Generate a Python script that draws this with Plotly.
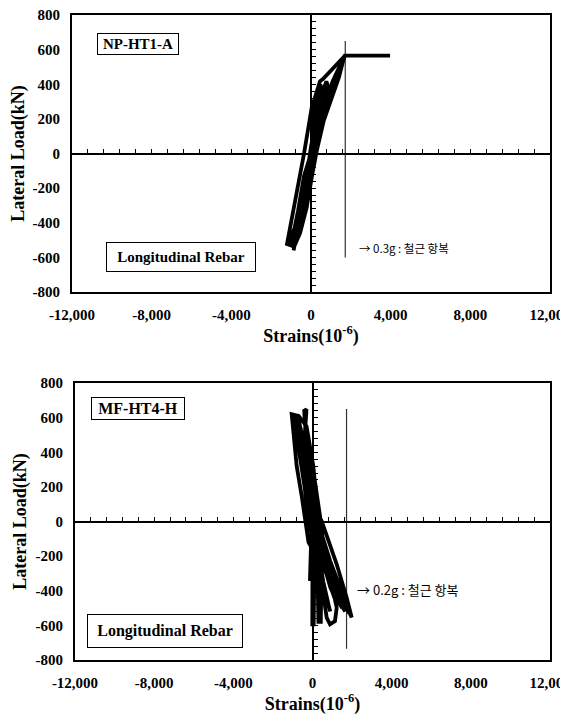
import plotly.graph_objects as go

# ---------------- data ----------------
x_tick_vals = [-12000, -8000, -4000, 0, 4000, 8000, 12000]
x_tick_text = ["-12,000", "-8,000", "-4,000", "0", "4,000", "8,000", "12,000"]
y_tick_vals = [-800, -600, -400, -200, 0, 200, 400, 600, 800]
y_tick_text = ["-800", "-600", "-400", "-200", "0", "200", "400", "600", "800"]

yield_strain = 1720

# NP-HT1-A (top) hysteresis: strain (1e-6), load (kN)
np_strain = [0, 100, 218, 250, 150, 0, -200, -380, -330, -150, 0,
             150, 300, 470, 520, 400, 200, 0, -250, -500, -620, -560, -350, -150, 0,
             250, 500, 700, 773, 820, 650, 400, 150, -150, -450, -700, -874, -800, -550, -250, -50, 100,
             300, 700, 1100, 1707, 1200, 788, 286, 50, -215, -550, -888, -780, -500, -300, -100, 100,
             400, 900, 1400, 1650, 1400, 900, 400, 0, -400, -800, -1050, -950, -650, -350, 0,
             200, 600, 1100, 1550, 1300, 800, 300, -100, -450, -750, -950, -850, -550, -250, 100,
             500, 1000, 1707, 1300, 700, 200, -250, -700, -1220, -1100, -860, -600, -350, 33, 450, 600,
             1200, 1707, 3970]
np_load = [0, 150, 321, 300, 160, 30, -120, -260, -250, -100, 0,
           200, 320, 398, 380, 270, 150, 40, -160, -330, -467, -440, -280, -120, 0,
           230, 330, 400, 417, 400, 300, 180, 60, -100, -300, -450, -560, -530, -380, -180, -20, 60,
           150, 300, 420, 570, 420, 263, 14, -130, -311, -460, -549, -520, -400, -250, -80, 60,
           170, 330, 470, 550, 440, 280, 110, -60, -300, -480, -540, -500, -330, -130, 0,
           120, 270, 400, 520, 420, 260, 80, -110, -320, -470, -530, -490, -320, -120, 60,
           200, 370, 565, 450, 230, 30, -200, -400, -532, -460, -311, -150, 0, 263, 417, 430,
           500, 565, 565]

# MF-HT4-H (bottom) hysteresis
mf_strain = [0, -100, -250, -380, -360, -250, -120, -50, -80, -130, -100, -60, 0,
             -200, -450, -700, -650, -500, -300, -100, 0, -20, -10, 60, 80, 150, 300, 250, 280, 300,
             420, 430, 463, 350, 200,
             -100, -500, -900, -850, -600, -350, -200, 100, 400, 716, 884, 1137, 1222, 1000, 600, 300,
             40, -300, -700, -1051, -1000, -800, -550, -379, -200, 200, 700, 1222, 1728, 1600, 1100,
             600, 379,
             100, -250, -380, -420, -303, -330, -380, -200, 0, 463, 900, 1222, 1728, 1980, 1880, 1400,
             900, 400, 0, -400, -800, -1000, -950, -700, -400, -150, 0,
             100, 500, 1000, 1500, 1400, 900, 400, 0, -300, -650, -950, -880, -600, -300, -50, 100,
             200, 600, 1100, 1650, 1550, 1000, 500, 150, -200, -500, -800, -720, -450, -150, 200,
             50, 300, 600, 900, 850, 550, 250, -100, -400, -600, -550, -350, -100, 50,
             300, 700, 1200, 1850, 1750, 1200, 700, 250, -150, -550, -1000, -920, -650, -350, -50, 300,
             150, 450, 900, 1300, 1200, 800, 350, -50, -450, -850, -1020, -950, -700, -400, -100, 150]
mf_load = [0, 200, 420, 575, 540, 330, 100, 0, -150, -343, -343, -150, 0,
           250, 450, 590, 560, 400, 200, 0, -150, -400, -594, -594, -400, -200, -100, -300, -500, -580,
           -580, -450, -200, -50, 80,
           300, 500, 610, 590, 400, 150, 0, -150, -300, -555, -594, -575, -497, -380, -200, 0,
           321, 550, 610, 620, 560, 321, 150, 0, -120, -200, -300, -420, -480, -460, -350,
           -180, 32,
           250, 480, 560, 640, 648, 600, 520, 300, 100, 3, -140, -247, -440, -555, -530, -380,
           -230, -50, 150, 420, 580, 600, 610, 470, 240, 50, 0,
           0, -180, -350, -500, -480, -320, -120, 80, 300, 520, 615, 600, 460, 250, 50, 0,
           0, -200, -380, -520, -500, -340, -150, 30, 280, 470, 600, 590, 420, 180, 0,
           0, -200, -400, -520, -500, -350, -150, 120, 380, 540, 520, 330, 100, 0,
           0, -170, -330, -530, -510, -350, -190, -20, 240, 450, 610, 605, 430, 220, 20, 0,
           0, -200, -380, -480, -470, -340, -160, 60, 320, 540, 600, 590, 420, 200, 20, 0]

np_yield_load = [650, -600]
mf_yield_load = [650, -735]

# ---------------- layout geometry ----------------
W, H = 568, 720
OFF = 8  # page body margin compensation
top_xdom = [(72 - OFF) / W, (550 - OFF) / W]
top_ydom = [1 - (292 - OFF) / H, 1 - (15 - OFF) / H]
bot_xdom = [(75 - OFF) / W, (550 - OFF) / W]
bot_ydom = [1 - (660 - OFF) / H, 1 - (383 - OFF) / H]

serif = "Liberation Serif"
black = "#000000"

fig = go.Figure()

fig.add_trace(go.Scatter(x=[yield_strain, yield_strain], y=np_yield_load, xaxis="x", yaxis="y",
                         mode="lines", line=dict(color="#333333", width=1.2),
                         showlegend=False, hoverinfo="skip"))
fig.add_trace(go.Scatter(x=[yield_strain, yield_strain], y=mf_yield_load, xaxis="x2", yaxis="y2",
                         mode="lines", line=dict(color="#333333", width=1.2),
                         showlegend=False, hoverinfo="skip"))

fig.add_trace(go.Scatter(x=np_strain, y=np_load, xaxis="x3", yaxis="y3", mode="lines",
                         line=dict(color=black, width=3.8), showlegend=False))
fig.add_trace(go.Scatter(x=mf_strain, y=mf_load, xaxis="x4", yaxis="y4", mode="lines",
                         line=dict(color=black, width=3.8), showlegend=False))

tick_font = dict(family=serif, size=15, color=black, weight="bold")
title_font = dict(family=serif, size=18, color=black, weight="bold")


def main_x(dom, anchor):
    return dict(domain=dom, anchor=anchor, range=[-12000, 12000], tickvals=x_tick_vals,
                ticktext=x_tick_text, showline=True, mirror=True, linewidth=2, linecolor=black,
                ticks="", showgrid=False, zeroline=False, tickfont=tick_font,
                ticklabelstandoff=8, ticklabeloverflow="allow", automargin=False,
                title=dict(text="Strains(10<sup>-6</sup>)", font=title_font, standoff=2))


def main_y(dom, anchor):
    return dict(domain=dom, anchor=anchor, range=[-800, 800], tickvals=y_tick_vals,
                ticktext=y_tick_text, showline=True, mirror=True, linewidth=2, linecolor=black,
                ticks="", showgrid=False, zeroline=False, tickfont=tick_font,
                ticklabelstandoff=7, ticklabeloverflow="allow", automargin=False,
                title=dict(text="Lateral Load(kN)", font=title_font, standoff=4))


def zero_x(base, dom, ydom):
    return dict(overlaying=base, anchor="free", domain=dom, position=(ydom[0] + ydom[1]) / 2,
                range=[-12000, 12000], tick0=0, dtick=800, ticks="inside", ticklen=4,
                tickwidth=1.3, tickcolor=black, showline=True, linewidth=2, linecolor=black,
                showticklabels=False, showgrid=False, zeroline=False, automargin=False)


def zero_y(base, dom, xdom):
    return dict(overlaying=base, anchor="free", domain=dom, position=(xdom[0] + xdom[1]) / 2,
                range=[-800, 800], tick0=0, dtick=40, ticks="inside", ticklen=4,
                tickwidth=1.3, tickcolor=black, showline=True, linewidth=2, linecolor=black,
                showticklabels=False, showgrid=False, zeroline=False, automargin=False)


box_font_top = dict(family=serif, size=15, color=black, weight="bold")
box_font_bot = dict(family=serif, size=16, color=black, weight="bold")
common = dict(showarrow=False, xanchor="center", yanchor="middle", bordercolor=black,
              borderwidth=1, bgcolor="white")

annotations = [
    dict(text="NP-HT1-A", xref="x domain", yref="y domain", x=0.138, y=0.896,
         font=box_font_top, borderpad=2, width=76, **common),
    dict(text="Longitudinal Rebar", xref="x domain", yref="y domain", x=0.228, y=0.126,
         font=box_font_top, borderpad=6, width=136, **common),
    dict(text="MF-HT4-H", xref="x2 domain", yref="y2 domain", x=0.133, y=0.908,
         font=box_font_bot, borderpad=2, width=88, **common),
    dict(text="Longitudinal Rebar", xref="x2 domain", yref="y2 domain", x=0.189, y=0.103,
         font=box_font_bot, borderpad=7, width=140, **common),
    dict(text="→ 0.3g : 철근 항복", xref="x", yref="y", x=2300, y=-545, xanchor="left",
         showarrow=False, font=dict(family="Noto Sans CJK KR", size=11.5, color=black)),
    dict(text="→ 0.2g : 철근 항복", xref="x2", yref="y2", x=2150, y=-390, xanchor="left",
         showarrow=False, font=dict(family="Noto Sans CJK KR", size=13, color=black)),
]

fig.update_layout(
    width=W, height=H,
    margin=dict(l=0, r=0, t=0, b=0, autoexpand=False),
    paper_bgcolor="white", plot_bgcolor="white",
    showlegend=False,
    xaxis=main_x(top_xdom, "y"),
    yaxis=main_y(top_ydom, "x"),
    xaxis2=main_x(bot_xdom, "y2"),
    yaxis2=main_y(bot_ydom, "x2"),
    xaxis3=zero_x("x", top_xdom, top_ydom),
    yaxis3=zero_y("y", top_ydom, top_xdom),
    xaxis4=zero_x("x2", bot_xdom, bot_ydom),
    yaxis4=zero_y("y2", bot_ydom, bot_xdom),
    annotations=annotations,
)

fig.write_html("out.html")
